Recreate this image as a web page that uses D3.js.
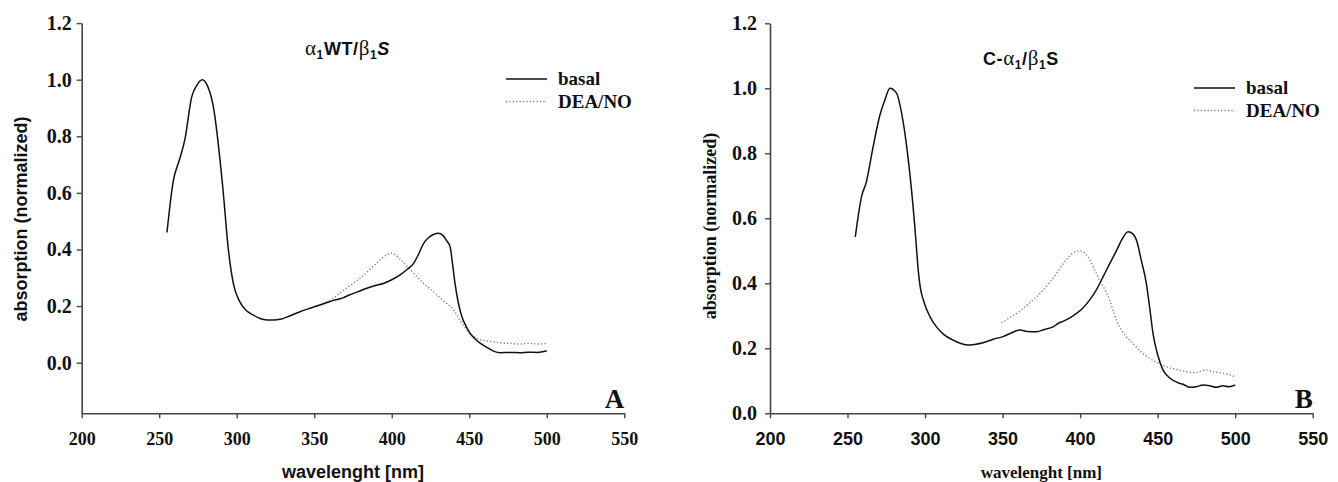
<!DOCTYPE html>
<html>
<head>
<meta charset="utf-8">
<script src="https://cdn.jsdelivr.net/npm/d3@7"></script>
<style>
  body { margin: 0; background: #fff; }
  svg { display: block; }
</style>
</head>
<body>
<svg id="chart" width="1338" height="482"></svg>
<script>
// tick values
const xTicks = [200, 250, 300, 350, 400, 450, 500, 550];
const yTicks = [0.0, 0.2, 0.4, 0.6, 0.8, 1.0, 1.2];

// panel A : alpha1 WT / beta1 S  ([wavelength nm, absorption])
const basalA = [
  [255, 0.46], [259, 0.64], [263, 0.716], [266.6, 0.79], [271, 0.94], [274.2, 0.98],
  [277.8, 1.0], [281, 0.98], [284.9, 0.905], [291, 0.62], [294.6, 0.40], [297.8, 0.28],
  [302, 0.215], [306, 0.185], [310.7, 0.168], [315, 0.156], [319.4, 0.151], [324, 0.151],
  [328, 0.153], [334, 0.165], [340.8, 0.18], [346, 0.19], [351.6, 0.20], [357, 0.21],
  [362.3, 0.22], [368, 0.228], [373, 0.24], [378, 0.25], [383.9, 0.263], [389, 0.272],
  [394.6, 0.28], [400, 0.293], [405.4, 0.31], [410, 0.33], [414, 0.35], [417, 0.38],
  [420.4, 0.42], [424, 0.443], [427, 0.453], [430, 0.457], [433, 0.45], [435.5, 0.43],
  [437.6, 0.41], [439.2, 0.35], [440.8, 0.28], [443, 0.21], [445.2, 0.163], [447.8, 0.13],
  [450.5, 0.104], [454, 0.083], [457, 0.069], [462, 0.052], [466, 0.04], [469.9, 0.035],
  [476, 0.036], [482.8, 0.035], [488, 0.037], [494, 0.036], [500, 0.042]
];
const deaA = [
  [351.6, 0.20], [356, 0.21], [360, 0.22], [365, 0.24], [370, 0.26], [375, 0.28],
  [380, 0.30], [385, 0.325], [390, 0.35], [394, 0.37], [397, 0.382], [399, 0.387],
  [402, 0.382], [406, 0.362], [411.8, 0.33], [416, 0.305], [421, 0.278], [427, 0.25],
  [433, 0.22], [440, 0.186], [444, 0.15], [448.4, 0.116], [451, 0.1], [454.8, 0.086],
  [460, 0.078], [465, 0.074], [470, 0.07], [476, 0.068], [482.8, 0.066], [488, 0.068],
  [494, 0.066], [500, 0.068]
];

// panel B : C-alpha1 / beta1 S
const basalB = [
  [255, 0.543], [259, 0.666], [262.2, 0.713], [266.5, 0.82], [270.9, 0.918], [274.1, 0.964],
  [277.3, 1.0], [281.6, 0.985], [284.9, 0.923], [289.2, 0.78], [293.4, 0.574], [294.6, 0.50],
  [295.6, 0.44], [297, 0.385], [298.8, 0.35], [301, 0.32], [304, 0.29], [307.4, 0.266],
  [312, 0.243], [318.1, 0.225], [323, 0.215], [327.8, 0.21], [332, 0.212], [337.4, 0.217],
  [344, 0.228], [350.3, 0.236], [356, 0.248], [361, 0.256], [366, 0.252], [371.8, 0.251],
  [377, 0.258], [382.5, 0.266], [386, 0.277], [390, 0.285], [395.4, 0.30], [401, 0.32],
  [406.2, 0.349], [410.5, 0.38], [414.8, 0.42], [419, 0.46], [423.4, 0.50], [427, 0.535],
  [430.9, 0.559], [434, 0.552], [436.3, 0.533], [439.5, 0.47], [442.7, 0.40], [445, 0.32],
  [447, 0.246], [450, 0.18], [453.5, 0.133], [458, 0.108], [464.2, 0.092], [467, 0.088],
  [470.6, 0.08], [475, 0.082], [479.2, 0.087], [483.5, 0.085], [487.8, 0.08], [492, 0.085],
  [496, 0.082], [500, 0.087]
];
const deaB = [
  [349.3, 0.279], [355, 0.295], [360, 0.31], [365, 0.33], [370, 0.35], [375, 0.373],
  [380, 0.40], [384, 0.425], [388, 0.453], [391.5, 0.475], [395.4, 0.493], [399.7, 0.50],
  [403, 0.493], [406.2, 0.472], [409, 0.445], [412.6, 0.41], [416, 0.38], [419.1, 0.349],
  [422, 0.305], [425.5, 0.266], [429, 0.24], [434.1, 0.215], [439, 0.19], [444.8, 0.169],
  [450, 0.155], [455.6, 0.143], [462, 0.135], [468.5, 0.128], [474.9, 0.125], [478, 0.13],
  [481.4, 0.133], [486, 0.128], [490, 0.125], [495, 0.12], [500, 0.113]
];

const SERIF = "'Liberation Serif', 'Times New Roman', serif";
const SANS = "'Liberation Sans', Arial, sans-serif";

const svg = d3.select("#chart");

function drawPanel(opt) {
  const x = d3.scaleLinear().domain([200, 550]).range([opt.left, opt.right]);
  const y = d3.scaleLinear().domain([opt.yMin, 1.2]).range([opt.bottom, opt.top]);
  const g = svg.append("g");

  // axes
  const xAxis = g.append("g")
    .attr("transform", `translate(0,${opt.bottom})`)
    .call(d3.axisBottom(x).tickValues(xTicks).tickSize(5).tickSizeOuter(0).tickPadding(14));
  xAxis.selectAll("text")
    .attr("font-family", opt.xTickFont).attr("font-weight", "bold")
    .attr("font-size", 18).attr("fill", "#111");

  const yAxis = g.append("g")
    .attr("transform", `translate(${opt.left},0)`)
    .call(d3.axisLeft(y).tickValues(yTicks).tickFormat(d3.format(".1f"))
      .tickSize(5).tickSizeOuter(0).tickPadding(opt.yPad));
  yAxis.selectAll("text")
    .attr("font-family", SERIF).attr("font-weight", "bold")
    .attr("font-size", 20).attr("fill", "#111");

  g.selectAll(".domain").attr("stroke", "#444").attr("stroke-width", 1.6);
  g.selectAll(".tick line").attr("stroke", "#444").attr("stroke-width", 1.4);

  // axis titles
  g.append("text")
    .attr("x", (opt.left + opt.right) / 2).attr("y", 478)
    .attr("text-anchor", "middle")
    .attr("font-family", opt.xLabelFont).attr("font-weight", "bold")
    .attr("font-size", opt.xLabelSize).attr("fill", "#111")
    .text("wavelenght [nm]");

  g.append("text")
    .attr("transform", `translate(${opt.yLabelX},${opt.yLabelY}) rotate(-90)`)
    .attr("text-anchor", "middle")
    .attr("font-family", opt.yLabelFont).attr("font-weight", "bold")
    .attr("font-size", opt.yLabelSize).attr("fill", "#111")
    .text("absorption (normalized)");

  // curves
  const line = d3.line()
    .x(d => x(d[0]))
    .y(d => y(d[1]))
    .curve(d3.curveMonotoneX);

  g.append("path").datum(opt.dea)
    .attr("d", line).attr("fill", "none")
    .attr("stroke", "#777").attr("stroke-width", 1.4)
    .attr("stroke-dasharray", "1.2,2.2");

  g.append("path").datum(opt.basal)
    .attr("d", line).attr("fill", "none")
    .attr("stroke", "#111").attr("stroke-width", 1.5);

  // title with subscripts
  const t = g.append("text")
    .attr("x", opt.titleX).attr("y", opt.titleY)
    .attr("font-family", SANS).attr("font-weight", "bold")
    .attr("font-size", 18).attr("letter-spacing", 0.6).attr("fill", "#111");
  opt.title.forEach(p => {
    const s = t.append("tspan").text(p.t);
    if (p.sub) s.attr("font-size", 12).attr("dy", 4);
    if (p.up) s.attr("dy", -4);
    if (p.greek) s.attr("font-weight", "normal").attr("font-family", SERIF).attr("font-size", 21);
    if (p.italic) s.attr("font-style", "italic");
  });

  // legend
  const leg = [
    { name: "basal", dash: null, color: "#111" },
    { name: "DEA/NO", dash: "1.2,2.2", color: "#777" }
  ];
  leg.forEach((d, i) => {
    const ly = opt.legY + i * 22.5;
    g.append("line")
      .attr("x1", opt.legX).attr("x2", opt.legX + 41)
      .attr("y1", ly).attr("y2", ly)
      .attr("stroke", d.color).attr("stroke-width", 1.5)
      .attr("stroke-dasharray", d.dash);
    g.append("text")
      .attr("x", opt.legX + 52).attr("y", ly + 6)
      .attr("font-family", SERIF).attr("font-weight", "bold")
      .attr("font-size", 19).attr("fill", "#111")
      .text(d.name);
  });

  // panel letter
  g.append("text")
    .attr("x", opt.right).attr("y", opt.bottom - 5)
    .attr("text-anchor", "end")
    .attr("font-family", SERIF).attr("font-weight", "bold")
    .attr("font-size", 27).attr("fill", "#111")
    .text(opt.letter);
}

drawPanel({
  left: 81.7, right: 624.3, top: 23.1, bottom: 413.3, yMin: -0.179,
  basal: basalA, dea: deaA,
  xTickFont: SERIF, yPad: 5,
  xLabelFont: SANS, xLabelSize: 18,
  yLabelFont: SANS, yLabelSize: 18, yLabelX: 27, yLabelY: 219,
  titleX: 305, titleY: 55,
  title: [
    { t: "α", greek: true }, { t: "1", sub: true }, { t: "WT/", up: true },
    { t: "β", greek: true }, { t: "1", sub: true }, { t: "S", up: true, italic: true }
  ],
  legX: 506, legY: 79,
  letter: "A"
});

drawPanel({
  left: 770, right: 1312.7, top: 23.3, bottom: 413.3, yMin: 0,
  basal: basalB, dea: deaB,
  xTickFont: SANS, yPad: 8,
  xLabelFont: SERIF, xLabelSize: 17,
  yLabelFont: SERIF, yLabelSize: 18, yLabelX: 716, yLabelY: 226,
  titleX: 983, titleY: 65,
  title: [
    { t: "C-" }, { t: "α", greek: true }, { t: "1", sub: true }, { t: "/", up: true },
    { t: "β", greek: true }, { t: "1", sub: true }, { t: "S", up: true }
  ],
  legX: 1194, legY: 88,
  letter: "B"
});
</script>
</body>
</html>
